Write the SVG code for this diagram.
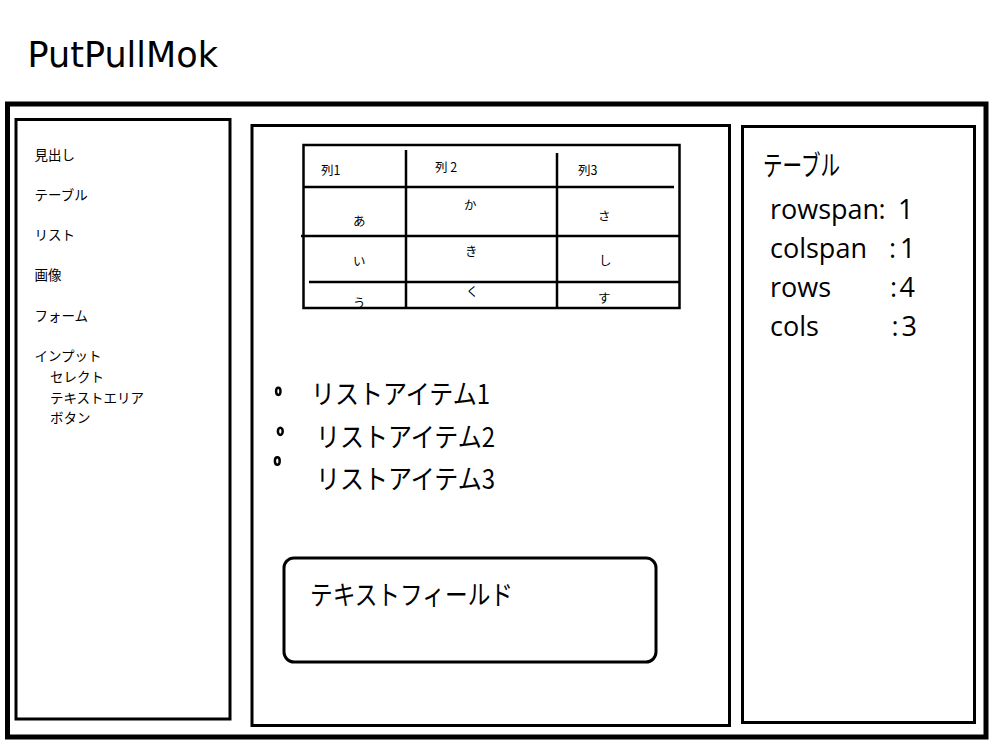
<svg xmlns="http://www.w3.org/2000/svg" width="1000" height="750" viewBox="0 0 1000 750">
<style>
.frame{fill:#fff;stroke:#000}
.jp{font-family:"Noto Sans CJK JP","Noto Sans",sans-serif;fill:#000}
.menu{font-size:13.5px}
.cell{font-size:12.5px}
.big{font-size:27px}
.prop{font-family:"Open Sans","Noto Sans",sans-serif;font-size:27px;fill:#000}
.tl{stroke:#000;stroke-width:2.5;fill:none}
.bullet{fill:#fff;stroke:#000;stroke-width:2.5}
</style>
<defs>
<clipPath id="tblclip"><rect x="303" y="145" width="377" height="162"/></clipPath>
</defs>
<rect width="1000" height="750" fill="#fff"/>
<text id="title" x="27.5" y="66.5" font-family="DejaVu Sans, Verdana, sans-serif" font-size="35" fill="#000">PutPullMok</text>
<g id="outer"><rect class="frame" x="7.5" y="104" width="978.5" height="633" stroke-width="5"/></g>
<g id="menu-panel">
<rect class="frame" x="16" y="119.5" width="214" height="599.5" stroke-width="3"/>
<g class="jp menu">
<text x="34.5" y="160">見出し</text>
<text x="34.5" y="200">テーブル</text>
<text x="34.5" y="240">リスト</text>
<text x="34.5" y="280">画像</text>
<text x="34.5" y="321">フォーム</text>
<text x="34.5" y="361">インプット</text>
<text x="50" y="382">セレクト</text>
<text x="50" y="403">テキストエリア</text>
<text x="50" y="423">ボタン</text>
</g>
</g>
<g id="canvas-panel">
<rect class="frame" x="252" y="125.5" width="477.5" height="600" stroke-width="3"/>
<g id="table">
<rect class="tl" x="303.5" y="145" width="376" height="163"/>
<line class="tl" x1="406" y1="150" x2="406" y2="308"/>
<line class="tl" x1="557" y1="153" x2="557" y2="308"/>
<line class="tl" x1="303" y1="187" x2="674" y2="187"/>
<line class="tl" x1="301" y1="236" x2="680" y2="236"/>
<line class="tl" x1="309" y1="282" x2="680" y2="282"/>
<g class="jp cell">
<text x="321" y="175">列1</text>
<text x="435" y="171.5">列 2</text>
<text x="578" y="175">列3</text>
<text x="353" y="225.5">あ</text>
<text x="464" y="209.5">か</text>
<text x="598" y="221">さ</text>
<text x="353" y="266">い</text>
<text x="465" y="256">き</text>
<text x="599" y="264.5">し</text>
<text x="353" y="308" clip-path="url(#tblclip)">う</text>
<text x="466" y="296">く</text>
<text x="598" y="303">す</text>
</g>
</g>
<g id="list">
<ellipse class="bullet" cx="278.3" cy="391.3" rx="2.2" ry="3.6"/>
<ellipse class="bullet" cx="280.3" cy="431.3" rx="2.4" ry="3.6"/>
<ellipse class="bullet" cx="277.3" cy="461" rx="2.4" ry="3.8"/>
<g class="jp big">
<text x="311" y="404" textLength="179" lengthAdjust="spacingAndGlyphs">リストアイテム1</text>
<text x="316" y="447" textLength="179" lengthAdjust="spacingAndGlyphs">リストアイテム2</text>
<text x="316" y="489" textLength="179" lengthAdjust="spacingAndGlyphs">リストアイテム3</text>
</g>
</g>
<g id="textfield">
<rect class="frame" x="284" y="558" width="372" height="104" rx="10" stroke-width="3"/>
<text class="jp big" x="310" y="605" textLength="203" lengthAdjust="spacingAndGlyphs">テキストフィールド</text>
</g>
</g>
<g id="props-panel">
<rect class="frame" x="742.5" y="126.5" width="232" height="596" stroke-width="3"/>
<text class="jp" x="763" y="175.5" font-size="28" textLength="77" lengthAdjust="spacingAndGlyphs">テーブル</text>
<g class="prop">
<text x="770" y="219.3">rowspan<tspan x="878.5">:</tspan> <tspan x="898">1</tspan></text>
<text x="770" y="258.3">colspan<tspan x="889">:</tspan> <tspan x="900">1</tspan></text>
<text x="770" y="297.3">rows<tspan x="890">:</tspan> <tspan x="899.5">4</tspan></text>
<text x="770" y="335.7">cols<tspan x="891.5">:</tspan> <tspan x="901.5">3</tspan></text>
</g>
</g>
<g id="connectors"/>
</svg>
